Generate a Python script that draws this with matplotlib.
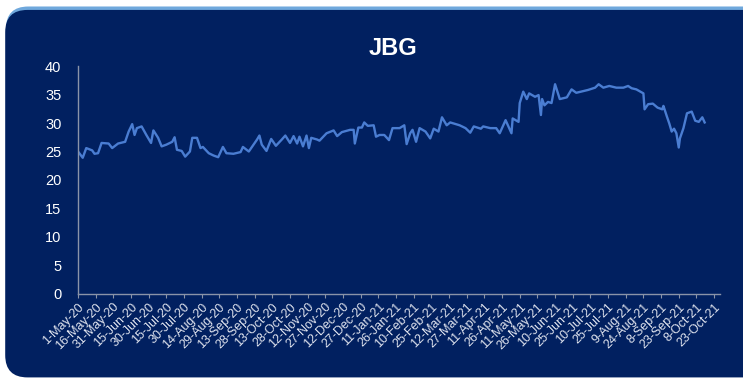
import matplotlib
matplotlib.use("Agg")
import matplotlib.pyplot as plt
import pandas as pd
from matplotlib.patches import FancyBboxPatch

START = pd.Timestamp("2020-05-01")

# days since 1-May-20 and the JBG price
day_offsets = [
    0, 4, 7, 12, 14, 17, 20, 26, 29, 34, 40, 43, 46, 48, 50, 54, 58, 62, 64, 68,
    71, 75, 80, 82, 84, 88, 91, 95, 97, 101, 104, 106, 111, 115, 119, 123, 126, 132, 138, 140,
    145, 152, 154, 156, 160, 164, 168, 173, 176, 180, 183, 186, 188, 191, 194, 196, 198, 203, 205, 211,
    217, 220, 224, 231, 234, 235, 238, 241, 243, 246, 251, 253, 256, 260, 264, 267, 273, 277, 279, 282,
    284, 287, 290, 295, 299, 302, 306, 309, 313, 316, 324, 329, 333, 336, 342, 344, 350, 355, 358, 363,
    368, 369, 374, 375, 378, 381, 383, 388, 391, 393, 394, 396, 399, 402, 405, 409, 415, 419, 423, 427,
    433, 439, 442, 446, 451, 457, 463, 467, 470, 474, 480, 481, 484, 488, 492, 496, 497, 500, 502, 504,
    506, 508, 510, 511, 514, 517, 521, 524, 527, 530, 532,
]
prices = [
    25.0, 23.9, 25.6, 25.2, 24.6, 24.7, 26.5, 26.4, 25.6, 26.4, 26.7, 28.5, 29.8, 27.9, 29.1, 29.4, 27.9, 26.5, 28.7, 27.4,
    25.9, 26.2, 26.7, 27.5, 25.3, 25.1, 24.1, 25.0, 27.4, 27.4, 25.6, 25.8, 24.7, 24.3, 24.0, 25.8, 24.7, 24.6, 24.9, 25.8,
    25.0, 27.1, 27.8, 26.2, 25.1, 27.2, 26.0, 27.1, 27.8, 26.5, 27.7, 26.4, 27.6, 25.9, 27.8, 25.6, 27.4, 27.1, 26.9, 28.2,
    28.7, 27.7, 28.4, 28.8, 28.8, 26.4, 29.2, 29.2, 30.1, 29.5, 29.6, 27.6, 27.9, 27.9, 27.0, 29.1, 29.1, 29.6, 26.3, 28.2,
    28.8, 26.7, 29.1, 28.5, 27.3, 29.0, 28.5, 31.0, 29.6, 30.1, 29.6, 29.1, 28.3, 29.4, 29.0, 29.4, 29.1, 29.1, 28.2, 30.5,
    28.2, 30.8, 30.2, 33.5, 35.5, 34.2, 35.2, 34.6, 34.9, 31.4, 34.2, 33.1, 33.7, 33.5, 36.8, 34.2, 34.5, 35.9, 35.3, 35.5,
    35.8, 36.2, 36.8, 36.2, 36.5, 36.2, 36.2, 36.5, 36.1, 35.9, 35.2, 32.4, 33.3, 33.4, 32.7, 32.4, 33.0, 31.1, 29.9, 28.5,
    29.0, 28.2, 25.7, 27.3, 29.1, 31.7, 32.0, 30.4, 30.2, 31.0, 30.1,
]

tick_dates = pd.date_range("2020-05-01", "2021-10-23", freq="15D")
tick_labels = [f"{d.day}-{d:%b-%y}" for d in tick_dates]

NAVY = "#012060"
LINE = "#4a7dd2"
TEXT = "#dfe3ee"

plt.rcParams["font.family"] = ["Liberation Sans", "DejaVu Sans"]

fig = plt.figure(figsize=(7.43, 3.82), dpi=100)
fig.patch.set_facecolor("white")

# rounded navy panel with a thin light-blue rim on top
rim = FancyBboxPatch((0.008, 0.3), 1.05, 0.683, boxstyle="round,pad=0,rounding_size=0.03",
                     transform=fig.transFigure, facecolor="#6fa8dc", edgecolor="none",
                     mutation_aspect=743 / 382, zorder=-2)
panel = FancyBboxPatch((0.007, 0.012), 1.05, 0.962, boxstyle="round,pad=0,rounding_size=0.03",
                       transform=fig.transFigure, facecolor=NAVY, edgecolor="none",
                       mutation_aspect=743 / 382, zorder=-1)
fig.patches.extend([rim, panel])

ax = fig.add_axes([0.105, 0.2304, 0.864, 0.5968])
ax.set_facecolor("none")
ax.set_zorder(1)

dates = [START + pd.Timedelta(days=d) for d in day_offsets]
ax.plot(dates, prices, color=LINE, linewidth=1.7)

ax.set_xlim(START, START + pd.Timedelta(days=545))
ax.set_ylim(0, 40)
ax.set_yticks(range(0, 41, 5))
ax.set_xticks(tick_dates)
ax.set_xticklabels(tick_labels, rotation=45, ha="right", va="top",
                   rotation_mode="anchor", fontsize=9, color=TEXT)
ax.tick_params(axis="y", length=0, labelsize=10.5, labelcolor="white", pad=12)
ax.tick_params(axis="x", length=3, color="#8a93a8", pad=2)

for side in ("top", "right"):
    ax.spines[side].set_visible(False)
for side in ("left", "bottom"):
    ax.spines[side].set_color("#8a93a8")
    ax.spines[side].set_linewidth(1.0)

fig.text(0.529, 0.872, "JBG", ha="center", va="center", fontsize=17,
         fontweight="bold", color="white", zorder=2)

fig.savefig("out.png", dpi=100, facecolor=fig.get_facecolor())
